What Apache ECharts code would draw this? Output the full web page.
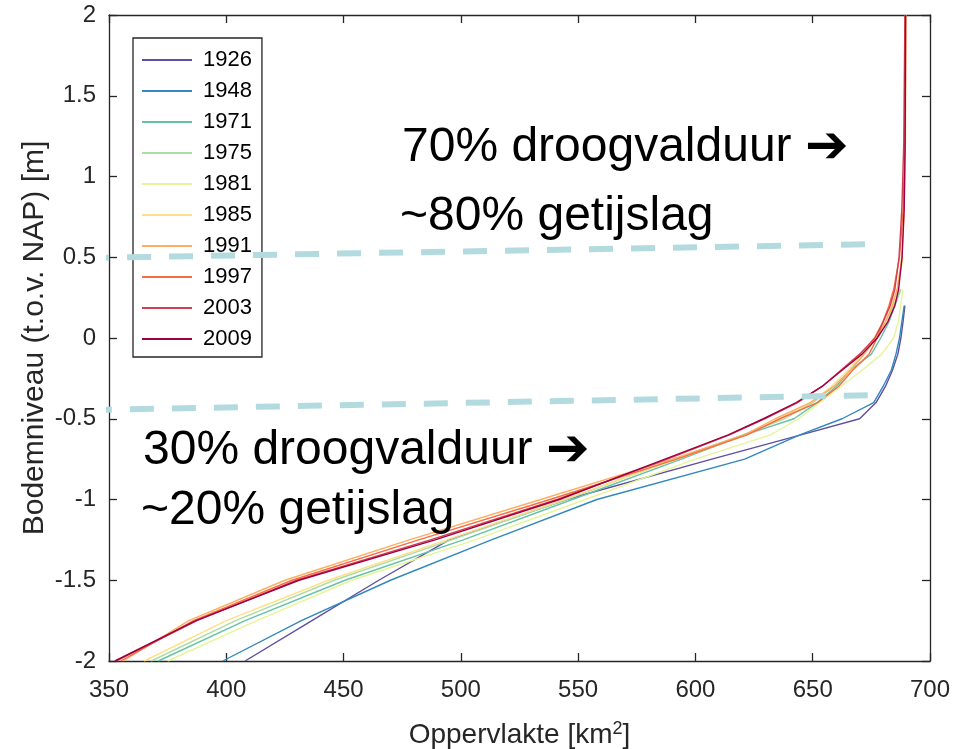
<!DOCTYPE html>
<html>
<head>
<meta charset="utf-8">
<script src="https://cdn.jsdelivr.net/npm/echarts@6/dist/echarts.min.js"></script>
<style>
  html, body { margin: 0; padding: 0; background: #fff; }
  #chart { width: 967px; height: 749px; }
</style>
</head>
<body>
<div id="chart"></div>
<script>
// Bed levels (m t.o.v. NAP) at which the surface area is read
const levels = [-2, -1.75, -1.5, -1.25, -1, -0.75, -0.6, -0.5, -0.4, -0.3, -0.2, -0.1, 0, 0.1, 0.2, 0.3, 0.5, 0.8, 1.2, 2];

// Surface area (km2) below each level, per year (null = curve ended)
const area1926 = [408, 436.5, 465, 495, 545, 607, 645, 670, 677, 681, 684, 686.3, 687.6, 688.5, 689.3, null, null, null, null, null];
const area1948 = [398.5, 432, 470, 513, 558, 621, 644.5, 662.5, 676, 680, 683.5, 685.5, 687, 688, 689, null, null, null, null, null];
const area1971 = [371, 408, 450.6, 501, 547.5, 594, 621, 642, 652, 660, 666, 675, 679, 682.5, 685, 687.5, null, null, null, null];
const area1975 = [368, 404, 446, 496, 545, 591, 620, 638, 650, 659, 666, 672, 677, 681, 684.5, 687.5, null, null, null, null];
const area1981 = [375, 413, 453.5, 506, 553, 600, 632, 644, 653, 662, 671, 679.4, 684.5, 686.5, 687.5, 688.4, null, null, null, null];
const area1985 = [365, 400, 443.5, 494, 544, 592, 622, 636, 649, 658, 665, 671, 676, 680, 683.5, 686, 688.5, null, null, null];
const area1991 = [356, 384, 425, 478, 534, 590, 621, 634, 649, 659, 666, 672, 677, 681, 684, 686, 688, 689, 689.5, 689.8];
const area1997 = [355, 386, 428, 482, 538, 592, 622, 636, 652, 661, 667, 674, 677.5, 680, 682.5, 684.5, 687, 688.6, 689.2, 689.5];
const area2003 = [353, 387.5, 430, 487, 541, 588, 614.5, 629.5, 643.5, 654, 662, 670, 676.5, 680, 683, 685, 686.8, 688, 688.8, 689.3];
const area2009 = [352.5, 387, 431, 489, 542, 587, 614, 629, 643, 654, 662.5, 671, 677.5, 682, 685, 686.6, 688.1, 689, 689.4, 689.6];

const years = ['1926', '1948', '1971', '1975', '1981', '1985', '1991', '1997', '2003', '2009'];
const areas = [area1926, area1948, area1971, area1975, area1981, area1985, area1991, area1997, area2003, area2009];
const colors = ['#5e4fa2', '#3288bd', '#66c2a5', '#abdda4', '#e6f598', '#fee08b', '#fdae61', '#f46d43', '#d53e4f', '#9e0142'];

// Annotation guide lines (area km2, level m)
const upperGuideX = [339.8, 679.5];
const upperGuideY = [0.495, 0.582];
const lowerGuideX = [341, 677.8];
const lowerGuideY = [-0.446, -0.353];

// Axis ticks
const xTicks = [350, 400, 450, 500, 550, 600, 650, 700];
const yTicks = [-2, -1.5, -1, -0.5, 0, 0.5, 1, 1.5, 2];

const FONT = '"Liberation Sans", Arial, Helvetica, sans-serif';
const ARROW_FONT = '"DejaVu Sans", "Liberation Sans", sans-serif';
const AXIS_COLOR = '#262626';

const chart = echarts.init(document.getElementById('chart'), null, { renderer: 'canvas' });

function seriesData(arr) {
  const out = [];
  for (let i = 0; i < levels.length; i++) {
    if (arr[i] !== null) out.push([arr[i], levels[i]]);
  }
  return out;
}

const lineSeries = years.map((y, i) => ({
  name: y,
  type: 'line',
  xAxisIndex: 0,
  yAxisIndex: 0,
  data: seriesData(areas[i]),
  symbol: 'none',
  smooth: false,
  color: colors[i],
  lineStyle: { color: colors[i], width: 1.4 },
  z: 3 + i
}));

function guide(xs, ys) {
  return {
    type: 'line',
    xAxisIndex: 0,
    yAxisIndex: 0,
    data: xs.map((x, i) => [x, ys[i]]),
    symbol: 'none',
    clip: false,
    silent: true,
    lineStyle: { color: '#b3dbdf', width: 6, type: [24, 18] },
    z: 20
  };
}

const axisCommon = {
  type: 'value',
  axisLine: { show: true, onZero: false, lineStyle: { color: AXIS_COLOR, width: 1.3 } },
  axisTick: { show: true, inside: true, length: 8, lineStyle: { color: AXIS_COLOR, width: 1.3 } },
  splitLine: { show: false }
};

function annot(x, y, main) {
  return {
    type: 'text', x: x, y: y, z: 50,
    style: {
      text: main,
      font: '48px ' + FONT,
      fill: '#000',
      verticalAlign: 'middle',
      rich: {
        arr: { fontSize: 52, fontFamily: ARROW_FONT, fontWeight: 'bold', fill: '#000', verticalAlign: 'middle' }
      }
    }
  };
}

const option = {
  animation: false,
  backgroundColor: '#ffffff',
  grid: { left: 109, right: 37, top: 15, bottom: 88, containLabel: false, outerBoundsMode: 'none' },
  xAxis: [
    Object.assign({}, axisCommon, {
      position: 'bottom',
      min: xTicks[0], max: xTicks[xTicks.length - 1], interval: 50,
      axisLabel: { color: AXIS_COLOR, fontSize: 24, fontFamily: FONT, margin: 17 },
      name: 'Oppervlakte [km{sup|2}]',
      nameLocation: 'middle',
      nameGap: 59,
      nameMoveOverlap: false,
      nameTextStyle: {
        color: AXIS_COLOR, fontSize: 28, fontFamily: FONT,
        rich: { sup: { fontSize: 18, fontFamily: FONT, color: AXIS_COLOR, verticalAlign: 'top', padding: [0, 0, 12, 0] } }
      }
    }),
    Object.assign({}, axisCommon, {
      position: 'top',
      min: xTicks[0], max: xTicks[xTicks.length - 1], interval: 50,
      axisLabel: { show: false }
    })
  ],
  yAxis: [
    Object.assign({}, axisCommon, {
      position: 'left',
      min: yTicks[0], max: yTicks[yTicks.length - 1], interval: 0.5,
      axisLabel: { color: AXIS_COLOR, fontSize: 24, fontFamily: FONT, margin: 13 },
      name: 'Bodemniveau (t.o.v. NAP) [m]',
      nameLocation: 'middle',
      nameGap: 59,
      nameMoveOverlap: false,
      nameTextStyle: { color: AXIS_COLOR, fontSize: 30, fontFamily: FONT }
    }),
    Object.assign({}, axisCommon, {
      position: 'right',
      min: yTicks[0], max: yTicks[yTicks.length - 1], interval: 0.5,
      axisLabel: { show: false }
    })
  ],
  legend: {
    data: years,
    orient: 'vertical',
    left: 133,
    top: 38,
    width: 130,
    padding: [11, 10, 7, 9],
    icon: 'path://M0,0 L100,0 L100,4 L0,4 Z',
    itemWidth: 56,
    itemHeight: 2,
    itemGap: 9,
    borderColor: AXIS_COLOR,
    borderWidth: 1.3,
    backgroundColor: '#ffffff',
    textStyle: { color: '#000', fontSize: 22, fontFamily: FONT, padding: [0, 0, 0, 3] },
    selectedMode: false
  },
  graphic: [
    annot(402, 148, '70% droogvalduur {arr|\u2794}'),
    annot(400, 217, '~80% getijslag'),
    annot(143, 451, '30% droogvalduur {arr|\u2794}'),
    annot(141, 511, '~20% getijslag')
  ],
  series: lineSeries.concat([guide(upperGuideX, upperGuideY), guide(lowerGuideX, lowerGuideY)])
};

chart.setOption(option);
</script>
</body>
</html>
